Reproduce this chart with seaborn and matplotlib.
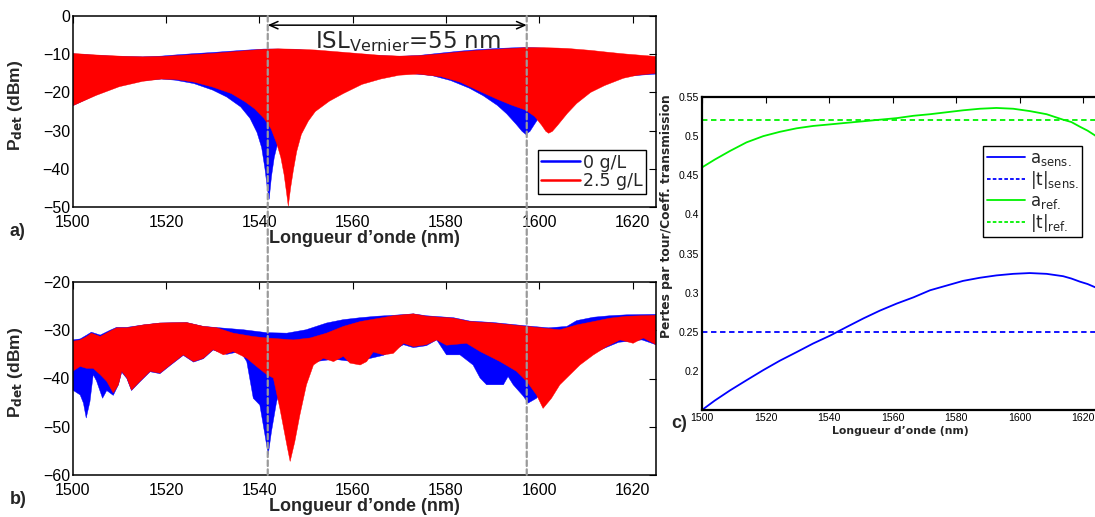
import numpy as np
import pandas as pd
import matplotlib
matplotlib.use("Agg")
import matplotlib.pyplot as plt
import seaborn as sns
from matplotlib.lines import Line2D
from matplotlib.patches import ConnectionPatch

# ---------------- data ----------------
# Panel a : fringe envelopes (upper / lower) of the detected power, dBm
a_up_x = [1500, 1505, 1510, 1515, 1519, 1522, 1526, 1530, 1534, 1537, 1539, 1541, 1544, 1548, 1552, 1555, 1558,
          1562, 1566, 1570, 1574, 1579, 1583, 1587, 1591, 1594, 1597, 1601, 1604, 1606, 1608, 1611, 1614, 1618,
          1621, 1625]
a_red_up_y = [-9.8, -10.2, -10.5, -10.7, -10.6, -10.4, -10.1, -9.8, -9.4, -9.1, -8.9, -8.7, -8.6, -8.7, -8.9, -9.2,
              -9.5, -9.9, -10.3, -10.5, -10.4, -9.9, -9.4, -9.0, -8.7, -8.5, -8.3, -8.3, -8.4, -8.5, -8.7, -9.0, -9.4,
              -9.9, -10.2, -10.6]
a_blue_up_y = [-9.9, -10.3, -10.6, -10.7, -10.5, -10.2, -9.85, -9.55, -9.2, -8.95, -8.8, -8.65, -8.65, -8.8, -9.1,
               -9.4, -9.7, -10.1, -10.4, -10.55, -10.35, -9.7, -9.2, -8.8, -8.5, -8.35, -8.25, -8.4, -8.6, -8.8, -9.0,
               -9.4, -9.8, -10.3, -10.6, -11.0]
a_blue_lo_x = [1500, 1505, 1510, 1515, 1519, 1522, 1526, 1530, 1533, 1536, 1538, 1539.5, 1540.5, 1541.2, 1541.7,
               1542.1, 1542.6, 1543.2, 1544, 1546, 1548, 1552, 1556, 1562, 1568, 1572, 1577, 1581, 1585, 1588, 1591,
               1593, 1595, 1596.3, 1597.1, 1598, 1599, 1600.5, 1603, 1607, 1612, 1618, 1625]
a_blue_lo_y = [-23.5, -20.6, -18.3, -16.9, -16.5, -16.8, -17.7, -19.4, -21.2, -23.8, -26.8, -30.5, -34.5, -40.0, -45.0,
               -48.0, -42.0, -37.0, -33.0, -27.5, -24.0, -20.0, -17.8, -15.8, -15.0, -15.0, -15.6, -16.9, -18.9, -20.9,
               -23.4, -25.6, -28.3, -30.2, -31.0, -30.2, -28.3, -25.5, -22.0, -19.0, -17.0, -15.8, -15.2]
a_red_lo_x = [1500, 1505, 1510, 1515, 1519, 1522, 1526, 1530, 1534, 1537, 1539, 1541, 1542.5, 1543.7, 1544.6, 1545.3,
              1545.8, 1546.2, 1546.7, 1547.3, 1548, 1549, 1550.5, 1552, 1555, 1558, 1562, 1566, 1570, 1574, 1579, 1583,
              1587, 1591, 1594, 1597, 1599, 1600.5, 1601.4, 1602, 1602.8, 1604, 1606, 1608, 1611, 1614, 1618, 1621, 1625]
a_red_lo_y = [-23.5, -20.8, -18.5, -17.1, -16.5, -16.6, -17.3, -18.6, -20.3, -22.5, -24.3, -26.8, -29.5, -33.3, -37.0,
              -41.5, -46.0, -49.8, -45.0, -40.3, -35.5, -31.0, -27.5, -25.0, -22.3, -20.3, -17.9, -16.5, -15.5, -15.2,
              -15.9, -17.3, -19.6, -21.8, -23.3, -24.6, -26.3, -28.6, -30.2, -30.7, -30.2, -28.5, -25.5, -22.9, -20.0,
              -18.2, -16.3, -15.5, -15.0]

# Panel b : measured spectra envelopes, dBm
b_red_up_x = [1500, 1501.6, 1503, 1504, 1505.9, 1508, 1509.4, 1511.6, 1515.1, 1518.7, 1524.4, 1528, 1530.9, 1534.4,
              1538.7, 1541.6, 1547.3, 1550.9, 1554.4, 1558, 1561.6, 1568.7, 1573, 1575.8, 1581.6, 1585.1, 1590.1,
              1597.3, 1604.4, 1608, 1611.6, 1615.1, 1618.7, 1625]
b_red_up_y = [-32.3, -32.0, -31.3, -30.6, -31.3, -30.2, -29.5, -29.5, -28.9, -28.5, -28.4, -29.2, -29.5, -30.6, -31.3,
              -31.6, -32.0, -31.6, -30.6, -29.2, -28.2, -27.0, -26.6, -27.1, -27.5, -28.2, -28.5, -29.2, -29.9, -28.9,
              -28.2, -27.5, -27.1, -26.9]
b_red_lo_x = [1500, 1501.6, 1503, 1504.4, 1505.9, 1507.3, 1508.7, 1509.8, 1510.5, 1511.6, 1512.6, 1514.4, 1516.6,
              1518.7, 1520.9, 1523.7, 1525.9, 1528, 1530.1, 1532.3, 1534.4, 1537.3, 1539.4, 1541.6, 1543, 1544.4,
              1545.9, 1546.6, 1547.6, 1548.7, 1550.1, 1551.6, 1553.7, 1555.9, 1558, 1559.4, 1561.6, 1563, 1564.4,
              1566.6, 1568.7, 1570.9, 1573, 1575.8, 1578, 1580.1, 1584.4, 1587.3, 1591.6, 1595.1, 1597.3, 1599.4,
              1600.8, 1602.6, 1604.4, 1606.6, 1608.7, 1611.6, 1614.4, 1617.3, 1620.1, 1622.3, 1625]
b_red_lo_y = [-38.5, -37.5, -37.9, -37.9, -39.2, -40.6, -43.0, -41.3, -38.5, -39.9, -42.4, -40.6, -38.5, -38.9, -37.2,
              -35.1, -36.5, -35.8, -34.0, -35.1, -34.4, -35.8, -37.5, -39.2, -39.9, -46.2, -53.8, -57.2, -53.1, -47.5,
              -41.3, -37.2, -35.8, -36.5, -35.4, -36.8, -37.2, -36.5, -34.5, -35.1, -34.8, -32.7, -33.4, -33.0, -32.0,
              -33.1, -32.7, -34.4, -36.5, -38.5, -40.6, -43.4, -46.2, -44.1, -41.3, -39.2, -37.2, -35.1, -33.4, -32.0,
              -32.7, -31.6, -33.0]
b_blue_up_x = [1500, 1501.6, 1503, 1504, 1505.9, 1508, 1509.4, 1511.6, 1515.1, 1518.7, 1524.4, 1528, 1531.6, 1536.6,
               1541.6, 1545.9, 1550, 1554.4, 1558, 1561.6, 1565.1, 1568.7, 1573, 1575.8, 1581.6, 1585.1, 1590.1,
               1597.3, 1602, 1605.9, 1608, 1611.6, 1615, 1618.7, 1625]
b_blue_up_y = [-32.0, -31.8, -31.0, -30.4, -31.0, -30.0, -29.4, -29.4, -28.9, -28.5, -28.4, -29.2, -29.5, -29.9, -30.5,
               -30.6, -29.9, -28.5, -27.8, -27.4, -27.1, -26.9, -26.6, -27.0, -27.4, -28.1, -28.4, -29.1, -29.5, -29.2,
               -28.0, -27.3, -27.0, -26.8, -26.7]
b_blue_lo_x = [1500, 1501.6, 1502.3, 1502.9, 1503.7, 1504.4, 1505.1, 1506.4, 1507.3, 1508.7, 1509.8, 1510.5, 1511.6,
               1512.6, 1514.4, 1516.6, 1518.7, 1520.9, 1523.7, 1525.9, 1528, 1530.1, 1533, 1535.9, 1537.3, 1538.7,
               1540.1, 1541.2, 1541.9, 1542.6, 1543.7, 1545, 1548, 1552, 1556, 1560, 1563, 1566.6, 1570.9, 1573,
               1575.8, 1578, 1580.1, 1583, 1585.8, 1587.3, 1588.7, 1592.3, 1593.3, 1594.4, 1596.6, 1597.6,
               1599.4, 1601, 1604, 1608, 1612, 1617, 1622, 1625]
b_blue_lo_y = [-42.4, -43.4, -45.1, -48.2, -44.8, -39.2, -40.5, -44.1, -42.5, -43.5, -41.3, -38.7, -40.0, -42.5, -40.7,
               -38.6, -39.0, -37.3, -35.2, -36.6, -35.9, -34.1, -35.0, -34.4, -36.5, -44.1, -45.5, -51.7, -55.8, -51.0,
               -44.8, -41.0, -38.0, -36.5, -36.0, -36.5, -36.0, -35.2, -33.0, -33.6, -33.2, -32.0, -35.1, -35.1,
               -37.2, -39.9, -41.3, -41.3, -39.6, -41.3, -43.7, -45.1, -44.1, -42.0, -38.0, -36.0, -34.5, -32.5, -32.0,
               -33.0]

# Panel c : round-trip losses and transmission coefficients
c_wl = [1500, 1504, 1508.8, 1514, 1519.3, 1524.5, 1529.8, 1535, 1540.3, 1545.5, 1550.8, 1556, 1561.3, 1566.6, 1571.8,
        1577, 1582.2, 1587.5, 1592.7, 1598, 1603.2, 1608.5, 1613.7, 1616.3, 1619, 1621.4, 1623.7, 1625]
a_ref = [0.460, 0.470, 0.481, 0.492, 0.500, 0.5055, 0.510, 0.513, 0.515, 0.517, 0.519, 0.521, 0.523, 0.526, 0.528,
         0.5305, 0.533, 0.535, 0.536, 0.535, 0.532, 0.528, 0.521, 0.518, 0.512, 0.507, 0.501, 0.497]
a_sens = [0.150, 0.162, 0.175, 0.188, 0.201, 0.213, 0.224, 0.235, 0.245, 0.256, 0.267, 0.277, 0.286, 0.294, 0.303,
          0.309, 0.315, 0.319, 0.322, 0.324, 0.325, 0.324, 0.321, 0.318, 0.314, 0.311, 0.307, 0.305]
t_ref = 0.52
t_sens = 0.25

isl_marks = [1541.8, 1597.3]
series_labels = ["0 g/L", "2.5 g/L"]
c_labels = [r"$\mathregular{a}_{\mathregular{sens.}}$", r"$\mathregular{|t|}_{\mathregular{sens.}}$",
            r"$\mathregular{a}_{\mathregular{ref.}}$", r"$\mathregular{|t|}_{\mathregular{ref.}}$"]

# ---------------- style ----------------
sns.set_theme(style="white")
plt.rcParams["font.family"] = ["Liberation Sans", "DejaVu Sans"]
plt.rcParams["mathtext.default"] = "regular"
plt.rcParams["axes.edgecolor"] = "black"

W, H = 1095, 517
fig = plt.figure(figsize=(W / 100, H / 100), dpi=100)
fig.patch.set_facecolor("white")


def px_axes(l, t, r, b):
    return fig.add_axes([l / W, 1 - b / H, (r - l) / W, (b - t) / H])


ax_a = px_axes(72.7, 16, 656, 207)
ax_b = px_axes(72.7, 282, 656, 475)
ax_c = px_axes(702, 97, 1099, 410)

BLUE, RED, GREEN = (0, 0, 1), (1, 0, 0), (0, 0.95, 0)


def band(ax, ux, uy, lx, ly, color):
    xs = np.r_[ux, lx[::-1]]
    ys = np.r_[uy, ly[::-1]]
    ax.fill(xs, ys, color=color, lw=0.3, ec=color)


band(ax_a, a_up_x, a_blue_up_y, a_blue_lo_x, a_blue_lo_y, BLUE)
band(ax_a, a_up_x, a_red_up_y, a_red_lo_x, a_red_lo_y, RED)
band(ax_b, b_blue_up_x, b_blue_up_y, b_blue_lo_x, b_blue_lo_y, BLUE)
band(ax_b, b_red_up_x, b_red_up_y, b_red_lo_x, b_red_lo_y, RED)

for ax, ylim, yt, ylc in [(ax_a, (-50, 0), np.arange(-50, 1, 10), 0.53),
                          (ax_b, (-60, -20), np.arange(-60, -19, 10), 0.534)]:
    ax.set_xlim(1500, 1625)
    ax.set_ylim(*ylim)
    ax.set_xticks(np.arange(1500, 1621, 20))
    ax.set_yticks(yt)
    ax.set_yticklabels([f"\u2212{abs(v)}" if v < 0 else f"{v}" for v in yt])
    ax.tick_params(direction="in", length=5, width=0.8, top=True, right=True, labelsize=11.5, colors="black")
    ax.tick_params(axis="x", pad=6)
    ax.tick_params(axis="y", pad=2)
    for s in ax.spines.values():
        s.set_linewidth(1.1)
        s.set_color("black")
    ax.set_xlabel("Longueur d\u2019onde (nm)", fontsize=13, fontweight="bold", labelpad=0)
    ax.set_ylabel(r"P$_{\mathbf{det}}$ (dBm)", fontsize=12.5, fontweight="bold")
    ax.yaxis.set_label_coords(-0.081, ylc)

# legend panel a
handles = [Line2D([], [], color=BLUE, lw=1.8), Line2D([], [], color=RED, lw=1.8)]
leg = ax_a.legend(handles, series_labels, loc="upper right", bbox_to_anchor=(0.983, 0.298), borderaxespad=0,
                  fancybox=False, edgecolor="black", framealpha=1, prop={"family": "DejaVu Sans", "size": 12.5},
                  handlelength=2.2, handletextpad=0.2, borderpad=0.2, labelspacing=0.05)
leg.get_frame().set_linewidth(1.0)

# ISL arrow and text
ax_a.annotate("", xy=(isl_marks[0], -2.4), xytext=(isl_marks[1], -2.4),
              arrowprops=dict(arrowstyle="<->,head_length=0.5,head_width=0.22", color="black", lw=1.1,
                              shrinkA=0, shrinkB=0))
ax_a.text(1571.8, -8.4, r"ISL$_{\mathregular{Vernier}}$=55 nm", ha="center", va="baseline",
          fontsize=16.5, family="DejaVu Sans")

# vertical dashed lines through panels a and b
for xm in isl_marks:
    con = ConnectionPatch(xyA=(xm, 0), coordsA=ax_a.transData, xyB=(xm, -60), coordsB=ax_b.transData,
                          color="#9a9a9a", lw=1.6, linestyle=(0, (2.5, 1.5)), zorder=10)
    fig.add_artist(con)

# panel c
df = pd.DataFrame({"wl": c_wl, "a_sens": a_sens, "a_ref": a_ref})
sns.lineplot(data=df, x="wl", y="a_sens", ax=ax_c, color=BLUE, lw=1.3)
sns.lineplot(data=df, x="wl", y="a_ref", ax=ax_c, color=GREEN, lw=1.3)
ax_c.axhline(t_sens, color=BLUE, lw=1.3, dashes=(3, 2))
ax_c.axhline(t_ref, color=GREEN, lw=1.3, dashes=(3, 2))
ax_c.set_xlim(1500, 1625)
ax_c.set_ylim(0.15, 0.55)
ax_c.set_xticks(np.arange(1500, 1621, 20))
ax_c.set_yticks(np.round(np.arange(0.2, 0.551, 0.05), 2))
ax_c.set_yticklabels(["0.2", "0.25", "0.3", "0.35", "0.4", "0.45", "0.5", "0.55"])
ax_c.tick_params(direction="in", length=4, width=0.8, top=True, right=False, labelsize=7.6, pad=2, colors="black")
for s in ax_c.spines.values():
    s.set_linewidth(1.6)
    s.set_color("black")
ax_c.set_xlabel("Longueur d\u2019onde (nm)", fontsize=7.8, fontweight="bold", family="DejaVu Sans", labelpad=2)
ax_c.set_ylabel("Pertes par tour/Coeff. transmission", fontsize=8.8, fontweight="bold", family="DejaVu Sans")
ax_c.yaxis.set_label_coords(-0.072, 0.62)

c_handles = [Line2D([], [], color=BLUE, lw=1.3), Line2D([], [], color=BLUE, lw=1.3, dashes=(2, 1.2)),
             Line2D([], [], color=GREEN, lw=1.3), Line2D([], [], color=GREEN, lw=1.3, dashes=(2, 1.2))]
leg_c = ax_c.legend(c_handles, c_labels, loc="upper right", bbox_to_anchor=(0.958, 0.844), borderaxespad=0,
                    fancybox=False, edgecolor="black", framealpha=1, prop={"family": "DejaVu Sans", "size": 12},
                    handlelength=2.3, handletextpad=0.3, borderpad=0.2, labelspacing=0.05)
leg_c.get_frame().set_linewidth(1.0)

# panel letters
fig.text(10 / W, 1 - 232 / H, "a)", fontsize=13, fontweight="bold", va="center", ha="left")
fig.text(10 / W, 1 - 500 / H, "b)", fontsize=13, fontweight="bold", va="center", ha="left")
fig.text(671 / W, 1 - 423 / H, "c)", fontsize=13, fontweight="bold", va="center", ha="left")

fig.savefig("out.png", dpi=100, facecolor="white")
